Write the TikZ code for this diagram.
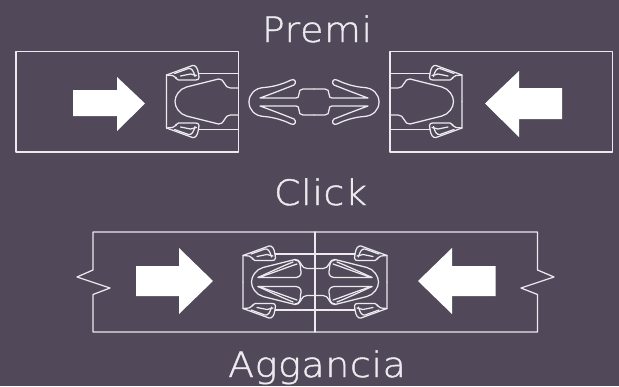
\documentclass[tikz,border=0pt]{standalone}
\usepackage{fontspec}
\setmainfont{DejaVu Sans ExtraLight}[LetterSpace=2,FakeBold=1.2,FakeStretch=1.08]
\definecolor{bgc}{HTML}{51495A}
\definecolor{linec}{HTML}{ECEAEE}
\tikzset{
  ln/.style={draw=linec,line width=1.25pt,line join=round,line cap=round,fill=none},
  fa/.style={fill=white,draw=none},
  lab/.style={text=linec,font=\fontsize{35}{35}\selectfont,inner sep=0pt,anchor=base}
}
\newcommand{\halfhook}{%
  \draw[ln] (-72,0) -- (-72,-26.5) -- (-46,-36) .. controls (-43,-36.5) and (-41,-34) .. (-40,-28) -- (-39.5,-24) .. controls (-39.5,-22) and (-41,-21.5) .. (-43,-21.5) -- (-60,-21.5) -- (-63,-23.5);
  \draw[ln] (-72,-26.5) -- (-66,-26) -- (-62,-23.5);
  \draw[ln] (-64,-28) -- (-50,-33) .. controls (-47,-33.5) and (-45,-31) .. (-43.5,-25);
  \draw[ln] (-58,-25.5) -- (-48,-27.5) -- (-42,-26);
  \draw[ln] (0,-28) -- (-40,-28);
}
\newcommand{\jawshape}{%
  \halfhook
  \begin{scope}[yscale=-1]\halfhook\end{scope}
  \draw[ln] (0,-13.5) -- (-8,-13.5) .. controls (-11,-13.5) and (-12,-15) .. (-14,-18) .. controls (-16,-21) and (-17,-23) .. (-20,-22.5) -- (-52,-14.5) .. controls (-59,-12.5) and (-63.5,-6) .. (-63.5,0) .. controls (-63.5,6) and (-59,12.5) .. (-52,14.5) -- (-20,22.5) .. controls (-17,23) and (-16,21) .. (-14,18) .. controls (-12,15) and (-11,13.5) .. (-8,13.5) -- (0,13.5);
}
\newcommand{\clipquarter}{%
  \draw[ln] (0,-13) -- (-11,-13) .. controls (-14,-13) and (-15,-11) .. (-15,-8) .. controls (-15,-5) and (-16,-4) .. (-18,-4) -- (-54,-4) .. controls (-43,-8) and (-30,-13) .. (-20,-17) .. controls (-17,-19) and (-19,-24) .. (-23,-22) .. controls (-33,-17) and (-43,-15) .. (-50,-14.5) .. controls (-59,-14) and (-65,-8) .. (-65,0);
}
\newcommand{\fingerquarter}{%
  \draw[ln] (-14.5,-13) .. controls (-13,-9) and (-14,-5) .. (-19,-4.5) -- (-57,-4.5) .. controls (-45,-8) and (-30,-14) .. (-18,-18);
  \draw[ln] (-20,-22) .. controls (-15,-22) and (-14.5,-17) .. (-14.5,-13);
  \draw[ln] (-57,-4.5) .. controls (-45,-10) and (-32,-16) .. (-22,-20);
}
\newcommand{\fourway}[1]{%
  #1
  \begin{scope}[yscale=-1]#1\end{scope}
  \begin{scope}[xscale=-1]#1\end{scope}
  \begin{scope}[xscale=-1,yscale=-1]#1\end{scope}
}
\begin{document}
\begin{tikzpicture}[x=1pt,y=-1pt]
\path[use as bounding box,fill=bgc] (0,0) rectangle (619,386);
% top boxes
\draw[ln] (16,51.5) rectangle (238.5,152);
\draw[ln] (390,51.5) rectangle (612.5,152);
\begin{scope}[shift={(238.5,101.5)}]\jawshape\end{scope}
\begin{scope}[shift={(390,101.5)},xscale=-1]\jawshape\end{scope}
\begin{scope}[shift={(314,102)}]\fourway{\clipquarter}\end{scope}
% top arrows
\fill[fa] (73,90) -- (117,90) -- (117,77) -- (145,103.5) -- (117,131) -- (117,116) -- (73,116) -- cycle;
\fill[fa] (562,88) -- (519,88) -- (519,71) -- (485,103.5) -- (519,137) -- (519,119) -- (562,119) -- cycle;
% bottom box
\draw[ln] (93,270) -- (93,232) -- (537.5,232) -- (537.5,270) -- (554,277) -- (521,288) -- (537.5,294.5) -- (537.5,332) -- (93,332) -- (93,294.5) -- (110,288) -- (77,277) -- cycle;
\draw[ln] (315,232) -- (315,332);
\begin{scope}[shift={(315,282)}]\jawshape\end{scope}
\begin{scope}[shift={(315,282)},xscale=-1]\jawshape\end{scope}
\begin{scope}[shift={(315,282)}]\fourway{\fingerquarter}\end{scope}
% bottom arrows
\fill[fa] (136,266) -- (179,266) -- (179,248) -- (213,281) -- (179,314) -- (179,296) -- (136,296) -- cycle;
\fill[fa] (495.5,266) -- (452,266) -- (452,248) -- (418,281) -- (452,314) -- (452,296) -- (495.5,296) -- cycle;
% labels
\node[lab] (premi) at (317,42) {Premi};
\node[lab] (click) at (320.5,205) {Click};
\node[lab] (aggancia) at (317,377) {Aggancia};
\end{tikzpicture}
\end{document}
